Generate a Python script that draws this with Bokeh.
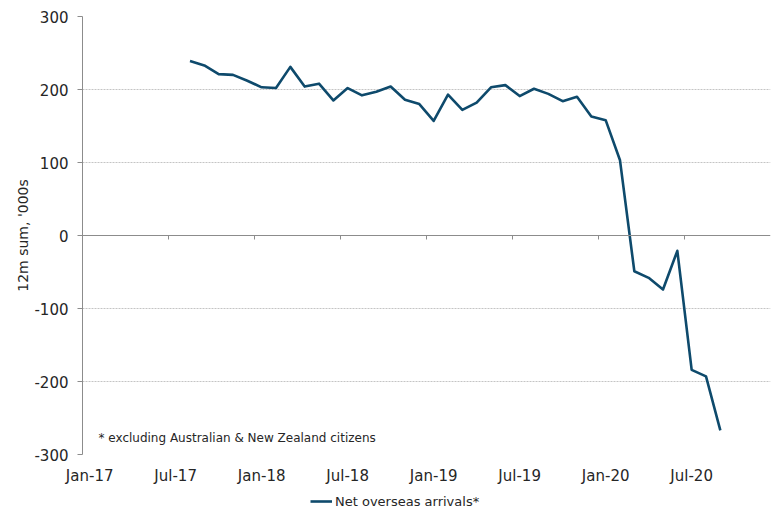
import pandas as pd
from bokeh.plotting import figure
from bokeh.layouts import column
from bokeh.models import (Range1d, FixedTicker, Span, Legend, LegendItem, Label)
from bokeh.embed import file_html
from bokeh.resources import INLINE

# ---- data ----
months = ["Aug-17", "Sep-17", "Oct-17", "Nov-17", "Dec-17",
          "Jan-18", "Feb-18", "Mar-18", "Apr-18", "May-18", "Jun-18",
          "Jul-18", "Aug-18", "Sep-18", "Oct-18", "Nov-18", "Dec-18",
          "Jan-19", "Feb-19", "Mar-19", "Apr-19", "May-19", "Jun-19",
          "Jul-19", "Aug-19", "Sep-19", "Oct-19", "Nov-19", "Dec-19",
          "Jan-20", "Feb-20", "Mar-20", "Apr-20", "May-20", "Jun-20",
          "Jul-20", "Aug-20", "Sep-20"]
net_arrivals = [239, 233, 221, 220, 212,
                203, 202, 231, 204, 208, 185,
                202, 192, 197, 204, 186, 180,
                157, 193, 172, 182, 203, 206,
                191, 201, 194, 184, 190, 163,
                158, 103, -49, -58, -74, -21,
                -184, -193, -267]
tick_labels = ["Jan-17", "Jul-17", "Jan-18", "Jul-18",
               "Jan-19", "Jul-19", "Jan-20", "Jul-20"]
y_ticks = [-300, -200, -100, 0, 100, 200, 300]
series_name = "Net overseas arrivals*"
footnote = "* excluding Australian & New Zealand citizens"
y_title = "12m sum, '000s"

# month index from Jan-17 (month slots, points centred in their slot)
def month_index(s):
    d = pd.to_datetime(s, format="%b-%y")
    return (d.year - 2017) * 12 + (d.month - 1)

xs = [month_index(m) + 0.5 for m in months]
tick_pos = [float(month_index(t)) for t in tick_labels]
label_pos = [t + 0.5 for t in tick_pos]

FONT = "DejaVu Sans"
TXT = "#262626"
AX = "#8c8c8c"
LINE = "#0e4a6c"
LINE_W = 2.6

p = figure(frame_width=688, frame_height=438, output_backend="svg",
           toolbar_location=None,
           x_range=Range1d(0, 48), y_range=Range1d(-300, 300),
           min_border_left=82, min_border_right=1, min_border_top=16,
           min_border_bottom=30)
p.outline_line_color = None
p.background_fill_color = "white"

# y axis
p.yaxis.ticker = FixedTicker(ticks=y_ticks)
p.yaxis.major_label_overrides = {t: str(t) for t in y_ticks}
p.yaxis.axis_line_color = AX
p.yaxis.major_tick_line_color = AX
p.yaxis.major_tick_out = 5
p.yaxis.major_tick_in = 0
p.yaxis.minor_tick_line_color = None
p.yaxis.major_label_standoff = 9
p.yaxis.major_label_text_font = FONT
p.yaxis.major_label_text_font_size = "15px"
p.yaxis.major_label_text_color = TXT
p.yaxis.axis_label = y_title
p.yaxis.axis_label_text_font = FONT
p.yaxis.axis_label_text_font_size = "14px"
p.yaxis.axis_label_text_font_style = "normal"
p.yaxis.axis_label_text_color = TXT
p.yaxis.axis_label_standoff = 0

# bottom axis: labels only
p.xaxis.ticker = FixedTicker(ticks=label_pos)
p.xaxis.major_label_overrides = {lp: lab for lp, lab in zip(label_pos, tick_labels)}
p.xaxis.axis_line_color = None
p.xaxis.major_tick_line_color = None
p.xaxis.minor_tick_line_color = None
p.xaxis.major_tick_out = 0
p.xaxis.major_tick_in = 0
p.xaxis.major_label_standoff = 12
p.xaxis.major_label_text_font = FONT
p.xaxis.major_label_text_font_size = "15px"
p.xaxis.major_label_text_color = TXT

# grid
p.xgrid.visible = False
p.ygrid.ticker = FixedTicker(ticks=[t for t in y_ticks if t != 0])
p.ygrid.grid_line_color = "#c4c4c4"
p.ygrid.grid_line_dash = "2 1"
p.ygrid.grid_line_width = 1

# zero line with tick marks (category axis crossing at 0)
p.add_layout(Span(location=0, dimension="width", line_color=AX, line_width=1))
p.segment(x0=tick_pos, y0=[0] * len(tick_pos), x1=tick_pos,
          y1=[-5.5] * len(tick_pos), line_color=AX, line_width=1)

p.line(xs, net_arrivals, line_color=LINE, line_width=LINE_W, line_join="round")

p.add_layout(Label(x=16, y=17, x_units="screen", y_units="screen",
                   text=footnote, text_font=FONT, text_font_size="12px",
                   text_color=TXT, text_baseline="middle"))

# legend strip below the chart (same series, kept out of this strip's view)
p2 = figure(width=771 - 8, height=24, output_backend="svg", toolbar_location=None,
            x_range=Range1d(-2, -1), y_range=Range1d(-2, -1), min_border=0)
p2.axis.visible = False
p2.grid.visible = False
p2.outline_line_color = None
r2 = p2.line(xs, net_arrivals, line_color=LINE, line_width=LINE_W)
legend = Legend(items=[LegendItem(label=series_name, renderers=[r2])],
                orientation="horizontal", location=(228, 2),
                border_line_color=None, background_fill_alpha=0,
                padding=0, margin=0, glyph_width=22, glyph_height=16,
                label_standoff=3, label_text_font=FONT,
                label_text_font_size="13px", label_text_color=TXT)
p2.add_layout(legend)

layout = column(p, p2, spacing=0)
open("out.html", "w").write(file_html(layout, INLINE))
